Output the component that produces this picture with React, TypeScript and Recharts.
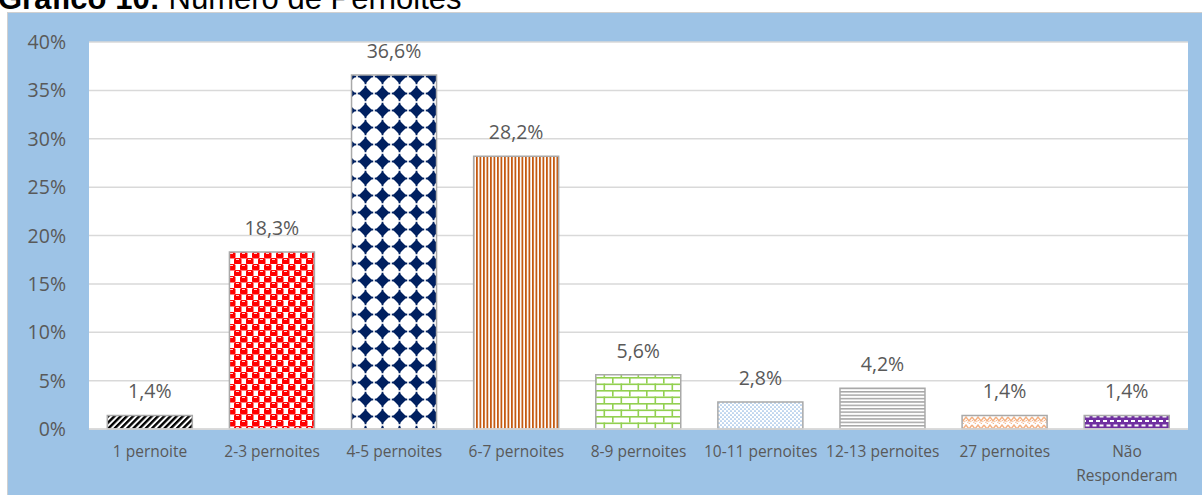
import React from 'react';
import { BarChart, Bar, XAxis, YAxis, CartesianGrid, Cell, LabelList } from 'recharts';

const categories = ['1 pernoite', '2-3 pernoites', '4-5 pernoites', '6-7 pernoites', '8-9 pernoites', '10-11 pernoites', '12-13 pernoites', '27 pernoites', 'Não Responderam'];
const percentages = [1.4, 18.3, 36.6, 28.2, 5.6, 2.8, 4.2, 1.4, 1.4];
const yTicks = [0, 5, 10, 15, 20, 25, 30, 35, 40];

const data = categories.map((name, i) => ({ name, value: percentages[i] }));

const FONT = '"Open Sans", sans-serif';
const TEXT = '#595959';

const XTick = (props: any) => {
  const { x, y, payload } = props;
  const label: string = payload.value;
  const lines = label === 'Não Responderam' ? ['Não', 'Responderam'] : [label];
  return (
    <g>
      {lines.map((l, i) => (
        <text key={i} x={x} y={y + 28 + i * 24} textAnchor="middle" fill={TEXT} fontFamily={FONT} fontSize={15.5}>
          {l}
        </text>
      ))}
    </g>
  );
};

const YTick = (props: any) => {
  const { x, y, payload } = props;
  return (
    <text x={x} y={y} dy="0.36em" textAnchor="end" fill={TEXT} fontFamily={FONT} fontSize={19.5}>
      {`${payload.value}%`}
    </text>
  );
};

const ValueLabel = (props: any) => {
  const { x, y, width, value } = props;
  return (
    <text x={x + width / 2} y={y - 17} textAnchor="middle" fill={TEXT} fontFamily={FONT} fontSize={19.5}>
      {`${Number(value).toFixed(1).replace('.', ',')}%`}
    </text>
  );
};

const Patterns = () => (
  <defs>
    <pattern id="p0" width="4.4" height="6" patternUnits="userSpaceOnUse" patternTransform="rotate(45)">
      <rect width="4.4" height="6" fill="#fff" />
      <rect width="2.4" height="6" fill="#000" />
    </pattern>
    <pattern id="p1" width="12" height="12" patternUnits="userSpaceOnUse">
      <rect width="12" height="12" fill="#fff" />
      <rect x="0" y="0" width="7.5" height="6.5" rx="1.5" fill="#FF0000" />
      <rect x="6" y="6" width="7.5" height="6.5" rx="1.5" fill="#FF0000" />
      <rect x="-6" y="6" width="7.5" height="6.5" rx="1.5" fill="#FF0000" />
      <rect x="2" y="1" width="3" height="1" fill="#fff" opacity="0.85" />
      <rect x="8" y="7" width="3" height="1" fill="#fff" opacity="0.85" />
    </pattern>
    <pattern id="p2" width="17" height="17" patternUnits="userSpaceOnUse">
      <rect width="17" height="17" fill="#fff" />
      <polygon points="8.5,1.6 15.4,8.5 8.5,15.4 1.6,8.5" fill="#002060" />
      <rect x="0.8" y="7.6" width="15.4" height="1.8" fill="#002060" />
      <rect x="7.6" y="0.8" width="1.8" height="15.4" fill="#002060" />
    </pattern>
    <pattern id="p3" width="3.5" height="4" patternUnits="userSpaceOnUse">
      <rect width="3.5" height="4" fill="#fff" />
      <rect width="1.8" height="4" fill="#C55A11" />
    </pattern>
    <pattern id="p4" width="17" height="13" patternUnits="userSpaceOnUse">
      <rect width="17" height="13" fill="#fff" />
      <rect x="0" y="0" width="17" height="1.6" fill="#92D050" />
      <rect x="0" y="6.5" width="17" height="1.6" fill="#92D050" />
      <rect x="0" y="0" width="1.6" height="6.5" fill="#92D050" />
      <rect x="8.5" y="6.5" width="1.6" height="6.5" fill="#92D050" />
    </pattern>
    <pattern id="p5" width="4" height="4" patternUnits="userSpaceOnUse">
      <rect width="4" height="4" fill="#fff" />
      <circle cx="1" cy="1" r="0.85" fill="#8DB5E2" />
      <circle cx="3" cy="3" r="0.85" fill="#8DB5E2" />
    </pattern>
    <pattern id="p6" width="4" height="3.4" patternUnits="userSpaceOnUse">
      <rect width="4" height="3.4" fill="#fff" />
      <rect width="4" height="1.5" fill="#A6A6A6" />
    </pattern>
    <pattern id="p7" width="12" height="8" patternUnits="userSpaceOnUse">
      <rect width="12" height="8" fill="#fff" />
      <polyline points="0,1 3,5 6,1 9,5 12,1" fill="none" stroke="#F4B183" strokeWidth="1.4" />
      <polyline points="0,4 3,8 6,4 9,8 12,4" fill="none" stroke="#F4B183" strokeWidth="1" strokeDasharray="1.5 1" />
    </pattern>
    <pattern id="p8" width="7" height="9" patternUnits="userSpaceOnUse">
      <rect width="7" height="9" fill="#7030A0" />
      <rect x="0.5" y="1.5" width="4" height="2" fill="#fff" />
      <rect x="4" y="6" width="4" height="2" fill="#fff" />
      <rect x="-3" y="6" width="4" height="2" fill="#fff" />
    </pattern>
  </defs>
);

export default function App() {
  return (
    <div style={{ position: 'absolute', left: 0, top: 0, width: 1202, height: 495, overflow: 'hidden', background: '#fff' }}>
      <svg width={1202} height={14} style={{ position: 'absolute', left: 0, top: 0 }}>
        <text x={-2} y={9} fontFamily='"Liberation Sans", Arial, sans-serif' fontSize={31} fill="#000">
          <tspan fontWeight="bold">Gráfico 10:</tspan>
          <tspan> Número de Pernoites</tspan>
        </text>
      </svg>
      <div
        style={{
          position: 'absolute',
          left: 7,
          top: 12,
          width: 1195,
          height: 483,
          background: '#9DC3E6',
          borderLeft: '1px solid #D0D0D0',
          borderTop: '1px solid #D0D0D0',
          boxSizing: 'border-box',
        }}
      />
      <div style={{ position: 'absolute', left: 0, top: 0 }}>
        <BarChart
          width={1202}
          height={495}
          data={data}
          margin={{ top: 42, right: 14, bottom: 0, left: 9 }}
          barCategoryGap="15%"
        >
          <Patterns />
          <CartesianGrid vertical={false} stroke="#D9D9D9" strokeWidth={1.5} fill="#fff" fillOpacity={1} />
          <XAxis
            dataKey="name"
            tick={<XTick />}
            tickLine={false}
            tickSize={0}
            tickMargin={0}
            axisLine={{ stroke: '#D9D9D9', strokeWidth: 1.5 }}
            interval={0}
            height={66}
          />
          <YAxis
            width={80}
            domain={[0, 40]}
            ticks={yTicks}
            tick={<YTick />}
            tickLine={false}
            tickSize={0}
            tickMargin={23}
            axisLine={false}
          />
          <Bar dataKey="value" isAnimationActive={false} stroke="#A9A9A9" strokeWidth={1.5}>
            {data.map((_, i) => (
              <Cell key={i} fill={`url(#p${i})`} />
            ))}
            <LabelList dataKey="value" content={<ValueLabel />} />
          </Bar>
        </BarChart>
      </div>
    </div>
  );
}
